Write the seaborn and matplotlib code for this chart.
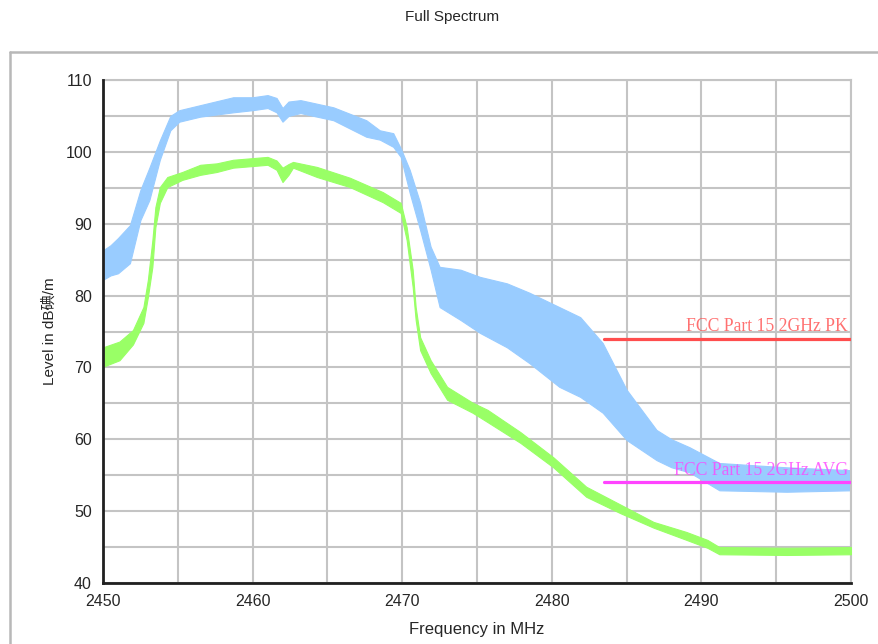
import matplotlib
matplotlib.use("Agg")
import matplotlib.pyplot as plt
from matplotlib.lines import Line2D
import seaborn as sns
import pandas as pd

# ---- data ----
pk_freq = [2450, 2450.5, 2451, 2451.8, 2452.5, 2453.1, 2453.8, 2454.5, 2455.1, 2456.5,
           2458.7, 2460, 2461, 2461.6, 2462, 2462.4, 2463.2, 2465.4, 2467.6, 2468.5,
           2469.4, 2469.9, 2470.5, 2471.2, 2471.9, 2472.5, 2473.9, 2475.2, 2477, 2478.5,
           2480.5, 2481.9, 2483.4, 2485, 2487, 2488, 2489.2, 2491.2, 2495.7, 2500]
pk_hi = [86.3, 87, 88, 89.8, 94.7, 97.8, 101.6, 105, 105.8, 106.5,
         107.6, 107.6, 107.9, 107.5, 106.1, 107, 107.2, 106.2, 104.4, 103,
         102.6, 100.5, 97.5, 92.9, 86.8, 84, 83.6, 82.6, 81.7, 80.4,
         78.4, 77, 73.4, 66.9, 61.3, 60, 58.9, 56.7, 56.1, 55.7]
pk_lo = [82.2, 82.8, 83.1, 84.5, 90.5, 93.3, 98.9, 103, 104.2, 104.9,
         105.5, 105.8, 106.1, 105.5, 104.2, 105, 105.4, 104.4, 102.1, 101.7,
         100.7, 99.3, 94.3, 89.1, 83.6, 78.4, 76.6, 74.8, 72.8, 70.6,
         67.3, 65.9, 63.7, 59.9, 57.1, 56.1, 55.4, 52.9, 52.7, 52.9]

av_freq = [2450, 2451.1, 2452, 2452.7, 2453, 2453.3, 2453.5, 2453.8, 2454.3, 2455.3,
           2456.5, 2457.6, 2458.7, 2461, 2461.6, 2462, 2462.4, 2462.7, 2464.3, 2466.5,
           2468.7, 2469.9, 2470.3, 2470.7, 2470.9, 2471.2, 2471.9, 2473, 2474.7, 2475.7,
           2477.9, 2480.1, 2482.3, 2484.6, 2486.8, 2489, 2490.4, 2491.2, 2495.7, 2500]
av_hi = [72.8, 73.6, 75.2, 78.4, 82.2, 87.7, 92.3, 95.1, 96.5, 97.2,
         98.2, 98.4, 98.9, 99.3, 98.8, 97.8, 98.3, 98.6, 97.9, 96.4,
         94.4, 92.9, 89.5, 83.6, 78.4, 74.2, 71, 67.3, 65.1, 64.1,
         61, 57.5, 53.4, 50.9, 48.5, 47.1, 46, 45, 44.9, 45]
av_lo = [70.1, 71, 73.2, 76.2, 79.8, 84, 89.5, 92.9, 95.1, 96.1,
         96.8, 97.2, 97.8, 98.2, 97.5, 95.8, 96.8, 97.8, 96.5, 95.1,
         93, 91.5, 87.7, 81.2, 76.6, 72.4, 69.2, 65.5, 63.7, 62.4,
         59.5, 56.1, 52, 49.7, 47.7, 46, 44.9, 44, 43.9, 44]

limit_names = ["FCC Part 15 2GHz PK", "FCC Part 15 2GHz AVG"]
limit_start = [2483.5, 2483.5]
limit_end = [2500, 2500]
limit_level = [74, 54]

x_ticks = [2450, 2460, 2470, 2480, 2490, 2500]
y_ticks = [40, 50, 60, 70, 80, 90, 100, 110]

# ---- style ----
sns.set_style("white")
plt.rcParams['font.family'] = ['Liberation Sans', 'Noto Sans CJK SC', 'DejaVu Sans']

fig = plt.figure(figsize=(8.79, 6.44), dpi=100)
ax = fig.add_axes([103/879, 1-583/644, (851-103)/879, (583-80)/644])

pk_color = "#99CCFF"
av_color = "#99FF66"
ax.fill_between(pk_freq, pk_lo, pk_hi, color=pk_color, lw=0.8, edgecolor=pk_color, zorder=2)
ax.fill_between(av_freq, av_lo, av_hi, color=av_color, lw=0.8, edgecolor=av_color, zorder=3)

lim_colors = ["#FF4D4D", "#FF44FF"]
rows = []
for n, s, e, l in zip(limit_names, limit_start, limit_end, limit_level):
    rows.append({"name": n, "f": s, "lvl": l})
    rows.append({"name": n, "f": e, "lvl": l})
df_lim = pd.DataFrame(rows)
sns.lineplot(data=df_lim, x="f", y="lvl", hue="name", palette=lim_colors,
             linewidth=2.3, legend=False, ax=ax, zorder=4)
for n, e, l, c in zip(limit_names, limit_end, limit_level, lim_colors):
    ax.text(e - 0.2, l + 0.45, n, ha="right", va="bottom", color=c,
            family=["Liberation Serif"], fontsize=12.7, zorder=5, alpha=0.8)

ax.set_xlim(2450, 2500)
ax.set_ylim(40, 110)
ax.set_xticks(x_ticks)
ax.set_xticks([v + 5 for v in x_ticks[:-1]], minor=True)
ax.set_yticks(y_ticks)
ax.set_yticks([v + 5 for v in y_ticks[:-1]], minor=True)
ax.grid(True, which="both", color="#C4C4C4", lw=1.5, zorder=0)
ax.set_axisbelow(True)
ax.tick_params(which="both", direction="inout", length=12, width=1.3, color="black",
               labelsize=11.5, pad=2)
for s in ["left", "bottom"]:
    ax.spines[s].set_color("#202020")
    ax.spines[s].set_linewidth(2)
    ax.spines[s].set_zorder(6)
for s in ["top", "right"]:
    ax.spines[s].set_color("#C4C4C4")
    ax.spines[s].set_linewidth(1.5)

ax.set_xlabel("Frequency in MHz", fontsize=12, labelpad=9)
ax.set_ylabel("Level in dB碘/m", fontsize=11, labelpad=6)

fig.text(452/879, 1-17/644, "Full Spectrum", ha="center", va="center", fontsize=11)

# outer frame
fig.add_artist(Line2D([10/879, 1.0], [1-52/644, 1-52/644], transform=fig.transFigure,
                      color="#B8B8B8", lw=1.8))
fig.add_artist(Line2D([10/879, 10/879], [1-52/644, 0.0], transform=fig.transFigure,
                      color="#B8B8B8", lw=1.8))

fig.savefig("out.png", dpi=100)
